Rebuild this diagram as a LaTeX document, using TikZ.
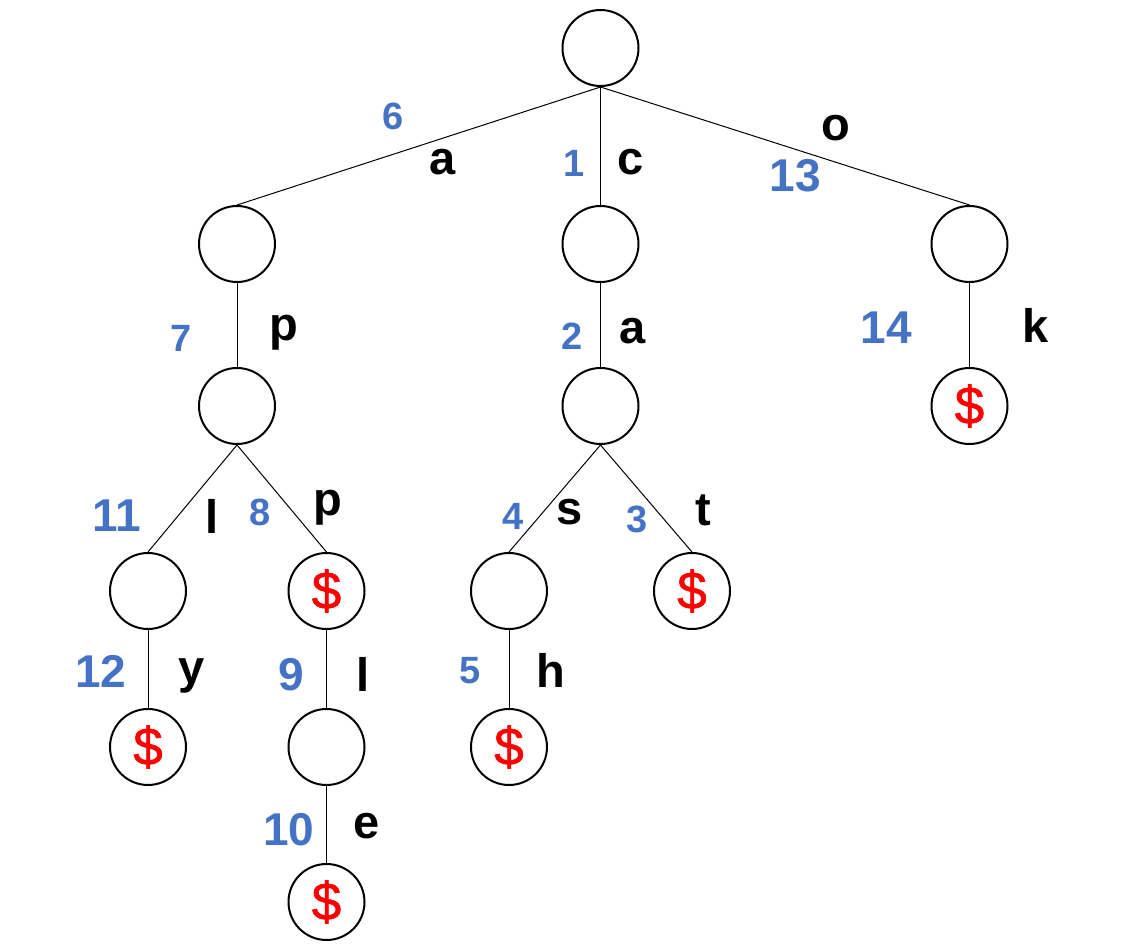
\documentclass[tikz,border=0pt]{standalone}
\usepackage{fontspec}
\setmainfont{Liberation Sans}
\newfontfamily\dollarfont[FakeBold=1.2]{Liberation Sans}
\definecolor{numblue}{HTML}{4472C4}
\definecolor{dollarred}{HTML}{FF0000}
\begin{document}
\begin{tikzpicture}[x=1pt,y=-1pt,
  trienode/.style={circle,draw=black,line width=2pt,minimum size=76pt,inner sep=0pt,
    font=\dollarfont\fontsize{53}{53}\selectfont,text=dollarred},
  edge/.style={line width=1pt,draw=black},
  numS/.style={anchor=base,inner sep=0pt,text=numblue,font=\fontsize{38}{38}\selectfont\bfseries},
  numL/.style={anchor=base,inner sep=0pt,text=numblue,font=\fontsize{46}{46}\selectfont\bfseries},
  lbl/.style={anchor=base,inner sep=0pt,text=black,font=\fontsize{47}{47}\selectfont\bfseries}]
\useasboundingbox (0,0) rectangle (1128,947);
% nodes
\node[trienode] (root) at (600.5,48) {};
\node[trienode] (A) at (237,244) {};
\node[trienode] (C) at (600.5,244) {};
\node[trienode] (O) at (969.5,244) {};
\node[trienode] (AP) at (237,406) {};
\node[trienode] (CA) at (600.5,406) {};
\node[trienode] (OK) at (969.5,406) {\$};
\node[trienode] (APL) at (148,591) {};
\node[trienode] (APP) at (326.5,591) {\$};
\node[trienode] (CAS) at (509,591) {};
\node[trienode] (CAT) at (692,591) {\$};
\node[trienode] (APLY) at (148,747) {\$};
\node[trienode] (APPL) at (326.5,747) {};
\node[trienode] (CASH) at (509,747) {\$};
\node[trienode] (APPLE) at (326.5,902) {\$};
% edges
\draw[edge] (root.south) -- (A.north);
\draw[edge] (root.south) -- (C.north);
\draw[edge] (root.south) -- (O.north);
\draw[edge] (A.south) -- (AP.north);
\draw[edge] (C.south) -- (CA.north);
\draw[edge] (O.south) -- (OK.north);
\draw[edge] (AP.south) -- (APL.north);
\draw[edge] (AP.south) -- (APP.north);
\draw[edge] (CA.south) -- (CAS.north);
\draw[edge] (CA.south) -- (CAT.north);
\draw[edge] (APL.south) -- (APLY.north);
\draw[edge] (APP.south) -- (APPL.north);
\draw[edge] (CAS.south) -- (CASH.north);
\draw[edge] (APPL.south) -- (APPLE.north);
% labels
\node[numS] (n6) at (393,130) {6};
\node[lbl] (la1) at (442.5,175) {a};
\node[numS] (n1) at (574,177) {1};
\node[lbl] (lc) at (631,175) {c};
\node[lbl] (lo) at (835.5,141) {o};
\node[numL] (n13) at (795.5,192) {13};
\node[numS] (n7) at (181.5,351) {7};
\node[lbl] (lp1) at (283.5,340) {p};
\node[numS] (n2) at (572,349) {2};
\node[lbl] (la2) at (633,343) {a};
\node[numL] (n14) at (886,343) {14};
\node[lbl] (lk) at (1036,342) {k};
\node[numL] (n11) at (117,531) {11};
\node[lbl] (ll1) at (212,533) {l};
\node[numS] (n8) at (260.5,525) {8};
\node[lbl] (lp2) at (327.5,515) {p};
\node[numS] (n4) at (513.5,529) {4};
\node[lbl] (ls) at (570,524) {s};
\node[numS] (n3) at (637,532) {3};
\node[lbl] (lt) at (703.5,525) {t};
\node[numL] (n12) at (101,687) {12};
\node[lbl] (ly) at (191.5,683) {y};
\node[numL] (n9) at (291,690) {9};
\node[lbl] (ll2) at (363,691) {l};
\node[numS] (n5) at (470.5,683) {5};
\node[lbl] (lh) at (550.5,687) {h};
\node[numL] (n10) at (289,845) {10};
\node[lbl] (le) at (367,838) {e};
\end{tikzpicture}
\end{document}
